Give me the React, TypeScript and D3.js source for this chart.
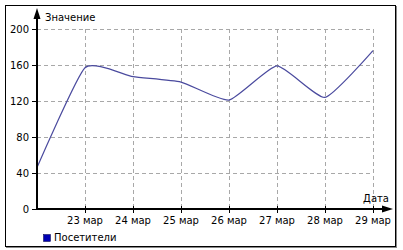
import React from "react";
import * as d3 from "d3";

const days = [22, 23, 24, 25, 26, 27, 28, 29];
const visitors = [46, 157, 147, 141, 121, 159, 124, 176];
const xTickDays = [23, 24, 25, 26, 27, 28, 29];
const yTicks = [0, 40, 80, 120, 160, 200];
const monthLabel = "мар";
const seriesName = "Посетители";
const yTitle = "Значение";
const xTitle = "Дата";

const W = 403;
const H = 250;
const FONT = "'DejaVu Sans', Verdana, sans-serif";

export default function App() {
  const x = d3.scaleLinear().domain([22, 29]).range([37, 373]);
  const y = d3.scaleLinear().domain([0, 200]).range([209, 29]);
  const line = d3
    .line<number>()
    .x((_, i) => x(days[i]))
    .y((d) => y(d))
    .curve(d3.curveCardinal.tension(0.5));
  const gridColor = "#a8a8a8";
  return (
    <div style={{ position: "absolute", left: 0, top: 0 }}>
      <svg width={W} height={H} style={{ display: "block", fontFamily: FONT }}>
        <rect x={0} y={0} width={W} height={H} fill="#fff" />
        <rect x={5.5} y={5.5} width={390} height={241} fill="#fff" stroke="#000" strokeWidth={1} />
        <line x1={396.5} y1={6} x2={396.5} y2={247.5} stroke="#888" strokeWidth={1} />
        <line x1={6} y1={247.5} x2={397} y2={247.5} stroke="#888" strokeWidth={1} />
        {/* grid */}
        {yTicks.filter((t) => t > 0).map((t) => (
          <line key={"gy" + t} x1={x(22)} x2={x(29)} y1={Math.round(y(t)) + 0.5} y2={Math.round(y(t)) + 0.5}
            stroke={gridColor} strokeDasharray="4,3" />
        ))}
        {xTickDays.map((d) => (
          <line key={"gx" + d} x1={Math.round(x(d)) + 0.5} x2={Math.round(x(d)) + 0.5} y1={y(200)} y2={y(0)}
            stroke={gridColor} strokeDasharray="4,3" />
        ))}
        {/* series */}
        <path d={line(visitors) || ""} fill="none" stroke="#4a4a9e" strokeWidth={1.2} />
        {/* y axis */}
        <line x1={37} x2={37} y1={210} y2={16} stroke="#000" strokeWidth={2} />
        <path d="M37,8 L33.5,19 L40.5,19 Z" fill="#000" />
        {yTicks.map((t) => (
          <g key={"yt" + t}>
            <line x1={32} x2={37} y1={Math.round(y(t)) + 0.5} y2={Math.round(y(t)) + 0.5} stroke="#000" />
            <text x={29} y={y(t) + 3.5} textAnchor="end" fontSize={10} fill="#000">{t}</text>
          </g>
        ))}
        <text x={45} y={21} fontSize={10} fill="#000">{yTitle}</text>
        {/* x axis */}
        <line x1={36} x2={386} y1={209} y2={209} stroke="#000" strokeWidth={2} />
        <path d="M393,209 L382,205.5 L382,212.5 Z" fill="#000" />
        {xTickDays.map((d) => (
          <g key={"xt" + d}>
            <line x1={Math.round(x(d)) + 0.5} x2={Math.round(x(d)) + 0.5} y1={206} y2={213} stroke="#000" />
            <text x={x(d)} y={224} textAnchor="middle" fontSize={10} fill="#000">{`${d} ${monthLabel}`}</text>
          </g>
        ))}
        <text x={389} y={202} textAnchor="end" fontSize={10} fill="#000">{xTitle}</text>
        {/* legend */}
        <rect x={43.5} y={234.5} width={7} height={7} fill="#0000b4" stroke="#000040" strokeWidth={0.5} />
        <text x={54} y={241} fontSize={10} fill="#000">{seriesName}</text>
      </svg>
    </div>
  );
}
